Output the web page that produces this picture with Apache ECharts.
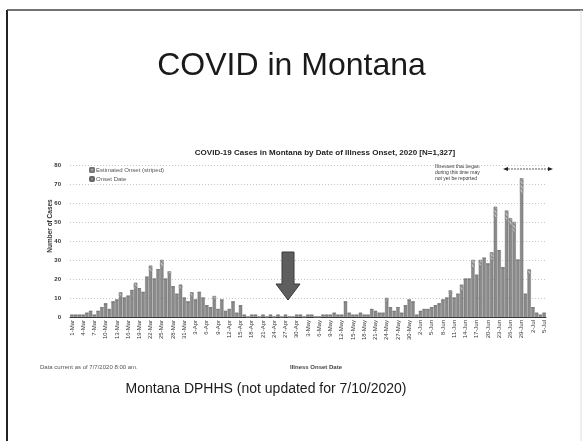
<!DOCTYPE html>
<html>
<head>
<meta charset="utf-8">
<script src="https://cdn.jsdelivr.net/npm/echarts@6/dist/echarts.min.js"></script>
<style>
  html, body { margin: 0; padding: 0; background: #fff; }
  #chart { width: 583px; height: 441px; }
</style>
</head>
<body>
<div id="chart"></div>
<script>
let chart = echarts.init(document.getElementById('chart'));

// dates 1-Mar .. 5-Jul
let months = ['Mar', 'Apr', 'May', 'Jun', 'Jul'];
let month_days = [31, 30, 31, 30, 5];
let dates = [];
for (let m = 0; m < months.length; m++) {
    for (let d = 1; d <= month_days[m]; d++) {
        dates.push(d + '-' + months[m]);
    }
}

// cases with known onset date
let onset_date = [
    1, 1, 1, 1, 2, 3, 1, 3, 5, 7, 4, 8, 9, 11, 10, 11, 14, 15, 15, 13, 21, 24, 20, 25, 26, 20, 22, 16, 12, 15, 10,
    8, 11, 9, 13, 10, 6, 5, 9, 4, 9, 3, 4, 8, 2, 6, 1, 0, 1, 1, 0, 1, 0, 1, 0, 1, 0, 1, 0, 0, 1,
    1, 0, 1, 1, 0, 0, 1, 1, 1, 2, 1, 1, 8, 2, 1, 1, 2, 1, 1, 4, 3, 2, 2, 8, 5, 3, 5, 2, 6, 9, 8,
    1, 3, 4, 4, 5, 6, 7, 9, 10, 12, 10, 12, 14, 20, 20, 26, 22, 27, 31, 28, 30, 52, 35, 26, 51, 48, 45, 30, 65, 12,
    22, 5, 2, 1, 2
];

// estimated onset (striped)
let estimated_onset = [
    0, 0, 0, 0, 0, 0, 0, 0, 0, 0, 0, 0, 0, 2, 0, 0, 0, 3, 0, 0, 0, 3, 0, 0, 4, 0, 2, 0, 0, 2, 0,
    0, 2, 0, 0, 0, 0, 0, 2, 0, 0, 0, 0, 0, 0, 0, 0, 0, 0, 0, 0, 0, 0, 0, 0, 0, 0, 0, 0, 0, 0,
    0, 0, 0, 0, 0, 0, 0, 0, 0, 0, 0, 0, 0, 0, 0, 0, 0, 0, 0, 0, 0, 0, 0, 2, 0, 0, 0, 0, 0, 0, 0,
    0, 0, 0, 0, 0, 0, 0, 0, 0, 2, 0, 0, 3, 0, 0, 4, 0, 3, 0, 0, 4, 6, 0, 0, 5, 4, 5, 0, 8, 0,
    3, 0, 0, 0, 0
];

let y_ticks = [0, 10, 20, 30, 40, 50, 60, 70, 80];

let small_font = 'Liberation Sans, Arial, sans-serif';

let option = {
    backgroundColor: '#fff',
    animation: false,
    title: {
        text: 'COVID-19 Cases in Montana by Date of Illness Onset, 2020 [N=1,327]',
        left: 320,
        top: 144,
        textAlign: 'center',
        textStyle: {fontSize: 8, fontWeight: 'bold', color: '#222', fontFamily: small_font}
    },
    legend: {
        orient: 'vertical',
        left: 84,
        top: 162,
        itemWidth: 4,
        itemHeight: 4,
        itemGap: 3,
        textStyle: {fontSize: 6, color: '#555', fontFamily: small_font, padding: [0, 0, 0, -3]},
        data: ['Estimated Onset (striped)', 'Onset Date']
    },
    grid: {
        left: 70,
        top: 165,
        width: 476,
        height: 152
    },
    xAxis: {
        type: 'category',
        data: dates,
        axisTick: {show: false},
        axisLine: {lineStyle: {color: '#333', width: 1}},
        axisLabel: {
            interval: 2,
            rotate: 90,
            fontSize: 6,
            margin: 3,
            color: '#333',
            fontFamily: small_font
        }
    },
    yAxis: {
        type: 'value',
        min: y_ticks[0],
        max: y_ticks[y_ticks.length - 1],
        interval: 10,
        axisLine: {show: false},
        axisTick: {show: false},
        axisLabel: {fontSize: 6, fontWeight: 'bold', color: '#333', margin: 9, fontFamily: small_font},
        splitLine: {lineStyle: {color: '#c8c8c8', type: [1, 2], width: 1}}
    },
    series: [
        {
            name: 'Onset Date',
            type: 'bar',
            stack: 'cases',
            data: onset_date,
            barCategoryGap: '12%',
            itemStyle: {color: '#8a8a8a', borderColor: '#666', borderWidth: 0.4}
        },
        {
            name: 'Estimated Onset (striped)',
            type: 'bar',
            stack: 'cases',
            data: estimated_onset,
            itemStyle: {
                color: '#bdbdbd',
                borderColor: '#777',
                borderWidth: 0.4,
                decal: {symbol: 'rect', dashArrayX: [1, 0], dashArrayY: [1, 2], rotation: 0.8, color: '#7a7a7a'}
            }
        }
    ],
    graphic: [
        // slide border
        {type: 'line', shape: {x1: 7, y1: 10, x2: 7, y2: 441}, style: {stroke: '#222', lineWidth: 2}},
        {type: 'line', shape: {x1: 7, y1: 10, x2: 583, y2: 10}, style: {stroke: '#444', lineWidth: 1.5}},
        {type: 'line', shape: {x1: 581, y1: 10, x2: 581, y2: 441}, style: {stroke: '#ddd', lineWidth: 1}},
        {
            type: 'text', left: 'center', top: 50,
            style: {text: 'COVID in Montana', fontSize: 32, fill: '#1a1a1a', fontFamily: small_font}
        },
        {
            type: 'text', x: 50, y: 226, rotation: Math.PI / 2,
            style: {text: 'Number of Cases', fontSize: 6.5, fontWeight: 'bold', fill: '#333', fontFamily: small_font, textAlign: 'center', textVerticalAlign: 'middle'}
        },
        // annotation top right
        {
            type: 'text', x: 435, y: 164,
            style: {text: 'Illnesses that began\nduring this time may\nnot yet be reported', fontSize: 5, lineHeight: 6, fill: '#333', fontFamily: small_font}
        },
        {type: 'line', shape: {x1: 505, y1: 169, x2: 551, y2: 169}, style: {stroke: '#333', lineWidth: 0.8, lineDash: [2, 1]}},
        {type: 'polygon', shape: {points: [[503, 169], [508, 167], [508, 171]]}, style: {fill: '#222'}},
        {type: 'polygon', shape: {points: [[553, 169], [548, 167], [548, 171]]}, style: {fill: '#222'}},
        // big down arrow
        {
            type: 'polygon', z: 100,
            shape: {points: [[282, 252], [294, 252], [294, 284], [300, 284], [288, 300], [276, 284], [282, 284]]},
            style: {fill: '#5e5e5e', stroke: '#3a3a3a', lineWidth: 1}
        },
        {
            type: 'text', x: 40, y: 367,
            style: {text: 'Data current as of 7/7/2020 8:00 am.', fontSize: 6, fill: '#555', fontFamily: small_font, textVerticalAlign: 'middle'}
        },
        {
            type: 'text', x: 316, y: 367,
            style: {text: 'Illness Onset Date', fontSize: 6, fontWeight: 'bold', fill: '#444', fontFamily: small_font, textAlign: 'center', textVerticalAlign: 'middle'}
        },
        {
            type: 'text', x: 266, y: 389,
            style: {text: 'Montana DPHHS (not updated for 7/10/2020)', fontSize: 14, fill: '#1a1a1a', fontFamily: small_font, textAlign: 'center', textVerticalAlign: 'middle'}
        }
    ]
};

chart.setOption(option);
</script>
</body>
</html>
